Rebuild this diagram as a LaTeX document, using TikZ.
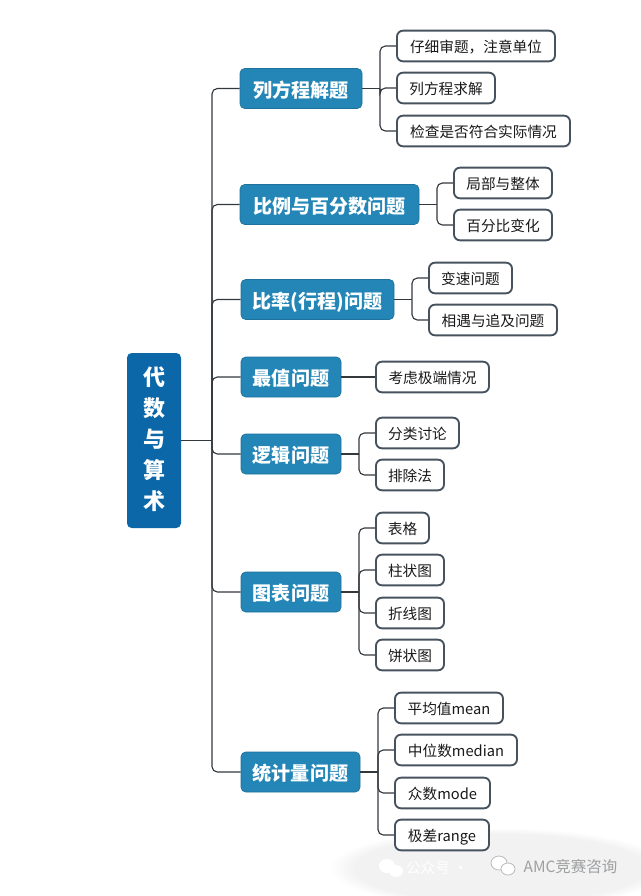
\documentclass[tikz,border=0pt]{standalone}
\usepackage{fontspec}
\setmainfont{Noto Sans CJK SC}
\usetikzlibrary{fadings}
\definecolor{rootblue}{HTML}{0B67A7}
\definecolor{topicblue}{HTML}{2386B6}
\definecolor{leafedge}{HTML}{47525F}
\definecolor{lineink}{HTML}{33383D}
\definecolor{wmark}{HTML}{B9BBBD}
\tikzset{
  wd/.style={minimum width=#1*0.75pt},
  rootnode/.style={fill=rootblue,rounded corners=3.5pt,text=white,font=\bfseries\fontsize{16.5pt}{23.25pt}\selectfont,align=center,inner sep=0pt,minimum height=131.25pt},
  topic/.style={fill=topicblue,draw=topicblue!85!black,line width=.5pt,rounded corners=3.5pt,text=white,font=\bfseries\fontsize{14.3pt}{17pt}\selectfont,inner sep=0pt,minimum height=30pt,text height=14pt,text depth=1pt},
  leaf/.style={fill=white,draw=leafedge,line width=1.4pt,rounded corners=4.5pt,text=black!90,font=\fontsize{11pt}{14pt}\selectfont,inner sep=0pt,minimum height=23pt,text height=10pt,text depth=1pt},
  conn/.style={draw=lineink,line width=.85pt},
  branch/.style={conn,rounded corners=4pt},
}
\begin{document}
\begin{tikzpicture}[x=0.75pt,y=-0.75pt]
\useasboundingbox (0,0) rectangle (640,896);
% watermark glow
\fill[black!5,path fading=circle with fuzzy edge 15 percent] (500,868) ellipse (170 and 40);
% root
\node[rootnode,wd=54] (root) at (154,440.5) {代\\数\\与\\算\\术\rule[-4pt]{0pt}{0pt}};
% topics
\node[topic,wd=122] (t1) at (301,88.5) {列方程解题};
\node[topic,wd=179] (t2) at (329.5,204.5) {比例与百分数问题};
\node[topic,wd=153] (t3) at (317.5,299.5) {比率(行程)问题};
\node[topic,wd=100] (t4) at (291,377) {最值问题};
\node[topic,wd=100] (t5) at (291,454) {逻辑问题};
\node[topic,wd=100] (t6) at (291,592) {图表问题};
\node[topic,wd=119] (t7) at (300.5,772) {统计量问题};
% leaves
\node[leaf,wd=158] (a1) at (476,46) {仔细审题，注意单位};
\node[leaf,wd=98] (a2) at (446,88) {列方程求解};
\node[leaf,wd=173] (a3) at (483.5,131) {检查是否符合实际情况};
\node[leaf,wd=98] (b1) at (503,183) {局部与整体};
\node[leaf,wd=98] (b2) at (503,225) {百分比变化};
\node[leaf,wd=83] (c1) at (470.5,278) {变速问题};
\node[leaf,wd=128] (c2) at (493,320) {相遇与追及问题};
\node[leaf,wd=113] (d1) at (432.5,377) {考虑极端情况};
\node[leaf,wd=83] (e1) at (417.5,433) {分类讨论};
\node[leaf,wd=68] (e2) at (410,475) {排除法};
\node[leaf,wd=53] (f1) at (402.5,528) {表格};
\node[leaf,wd=68] (f2) at (410,570) {柱状图};
\node[leaf,wd=68] (f3) at (410,613) {折线图};
\node[leaf,wd=68] (f4) at (410,655) {饼状图};
\node[leaf,wd=108] (g1) at (449,708) {平均值mean};
\node[leaf,wd=122] (g2) at (456,750) {中位数median};
\node[leaf,wd=95] (g3) at (442.5,793) {众数mode};
\node[leaf,wd=94] (g4) at (442,835) {极差range};
% bus points
\coordinate (r0) at (212,440.5);
\coordinate (j1) at (380,88.5);
\coordinate (j2) at (437,204.5);
\coordinate (j3) at (412,299.5);
\coordinate (j5) at (359,454);
\coordinate (j6) at (359,592);
\coordinate (j7) at (378,772);
% connectors
\draw[conn] (root.east) -- (r0);
\foreach \t in {t1,t2,t3,t4,t5,t6,t7} \draw[branch] (r0) |- (\t.west);
\draw[conn] (t1.east) -- (j1); \foreach \n in {a1,a2,a3} \draw[branch] (j1) |- (\n.west);
\draw[conn] (t2.east) -- (j2); \foreach \n in {b1,b2} \draw[branch] (j2) |- (\n.west);
\draw[conn] (t3.east) -- (j3); \foreach \n in {c1,c2} \draw[branch] (j3) |- (\n.west);
\draw[conn] (t4.east) -- (d1.west);
\draw[conn] (t5.east) -- (j5); \foreach \n in {e1,e2} \draw[branch] (j5) |- (\n.west);
\draw[conn] (t6.east) -- (j6); \foreach \n in {f1,f2,f3,f4} \draw[branch] (j6) |- (\n.west);
\draw[conn] (t7.east) -- (j7); \foreach \n in {g1,g2,g3,g4} \draw[branch] (j7) |- (\n.west);
% watermark
\node[text=white,font=\fontsize{11pt}{13pt}\selectfont] (wm0) at (437,868) {公众号 ·};
\fill[white] (387,866) ellipse (8 and 7); \fill[white] (396,871) ellipse (7 and 6);
\draw[wmark,fill=white,line width=.6pt] (499,863) ellipse (8 and 7);
\draw[wmark,fill=white,line width=.6pt] (508,869) ellipse (7 and 6);
\node[text=wmark!85!black,font=\fontsize{11.6pt}{13pt}\selectfont] (wm1) at (570.5,866.5) {AMC竞赛咨询};
\end{tikzpicture}
\end{document}
